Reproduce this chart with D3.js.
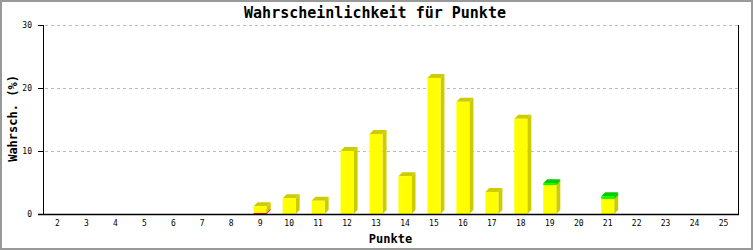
<!DOCTYPE html>
<html>
<head>
<meta charset="utf-8">
<script src="https://cdn.jsdelivr.net/npm/d3@7"></script>
<style>
  body { margin: 0; background: #fff; }
  text { font-family: "DejaVu Sans Mono", "Liberation Mono", monospace; }
</style>
</head>
<body>
<svg id="chart"></svg>
<script>
// Punkte (categories)
var punkte = ['2','3','4','5','6','7','8','9','10','11','12','13','14','15','16','17','18','19','20','21','22','23','24','25'];
// stacked segments, bottom to top
var rotWerte  = [0,0,0,0,0,0,0,0.15,0,0,0,0,0,0,0,0,0,0,0,0,0,0,0,0];
var gelbWerte = [0,0,0,0,0,0,0,1.1,2.5,2.1,10.0,12.7,6.0,21.6,17.8,3.5,15.1,4.6,0,2.4,0,0,0,0];
var gruenWerte= [0,0,0,0,0,0,0,0,0,0,0,0,0,0,0,0,0,0.3,0,0.4,0,0,0,0];
var yTicks = [0, 10, 20, 30];

var W = 753, H = 250;
var margin = { top: 25, right: 15, bottom: 36, left: 43 };
var width = W - margin.left - margin.right,
    height = H - margin.top - margin.bottom;

var svg = d3.select("#chart").attr("width", W).attr("height", H);

// outer frame
svg.append("rect")
    .attr("x", 1).attr("y", 1).attr("width", W - 2).attr("height", H - 2)
    .attr("fill", "#fff").attr("stroke", "#999").attr("stroke-width", 2);

var g = svg.append("g").attr("transform", `translate(${margin.left},${margin.top})`);

var x = d3.scaleBand().domain(punkte).range([0, width])
    .paddingInner(0.55).paddingOuter(0.275);
var y = d3.scaleLinear().domain([0, 30]).range([height, 0]);

// grid
g.selectAll(".grid").data(yTicks.filter(d => d > 0)).enter()
    .append("line")
    .attr("x1", 2).attr("x2", width)
    .attr("y1", d => y(d) + 0.5).attr("y2", d => y(d) + 0.5)
    .attr("stroke", "#bbb").attr("stroke-dasharray", "3,3");

// stacked 3d bars
var series = [
    { vals: rotWerte,   front: "#ff0000", dark: "#cc0000" },
    { vals: gelbWerte,  front: "#ffff00", dark: "#cccc00" },
    { vals: gruenWerte, front: "#00ff00", dark: "#00cc00" }
];
var depth = 4;
var bw = x.bandwidth();

punkte.forEach(function (p, i) {
    var base = 0;
    series.forEach(function (s) {
        var v = s.vals[i];
        if (v <= 0) return;
        var x0 = x(p), y0 = y(base), y1 = y(base + v);
        // side face
        g.append("path")
            .attr("d", `M${x0 + bw},${y0} L${x0 + bw + depth},${y0 - depth} L${x0 + bw + depth},${y1 - depth} L${x0 + bw},${y1} Z`)
            .attr("fill", s.dark);
        // top face
        g.append("path")
            .attr("d", `M${x0},${y1} L${x0 + depth},${y1 - depth} L${x0 + bw + depth},${y1 - depth} L${x0 + bw},${y1} Z`)
            .attr("fill", s.dark);
        // front
        g.append("rect")
            .attr("x", x0).attr("y", y1)
            .attr("width", bw).attr("height", y0 - y1)
            .attr("fill", s.front);
        base += v;
    });
});

// y axis
g.append("line").attr("x1", 0.5).attr("x2", 0.5).attr("y1", 0).attr("y2", height)
    .attr("stroke", "#000");
g.selectAll(".ytick").data(yTicks).enter().append("line")
    .attr("x1", -5).attr("x2", 0)
    .attr("y1", d => y(d) + 0.5).attr("y2", d => y(d) + 0.5)
    .attr("stroke", "#000");
g.selectAll(".ylab").data(yTicks).enter().append("text")
    .attr("x", -11).attr("y", d => y(d) + 3)
    .attr("text-anchor", "end").style("font-size", "8px")
    .text(d => d);

// right frame line
g.append("line").attr("x1", width + 0.5).attr("x2", width + 0.5).attr("y1", 0).attr("y2", height)
    .attr("stroke", "#000");

// x axis
g.append("line").attr("x1", -5).attr("x2", width + 1).attr("y1", height + 0.5).attr("y2", height + 0.5)
    .attr("stroke", "#000").attr("stroke-width", 1.5);
g.selectAll(".xlab").data(punkte).enter().append("text")
    .attr("x", d => x(d) + bw / 2).attr("y", height + 12)
    .attr("text-anchor", "middle").style("font-size", "8px")
    .text(d => d);

// titles
svg.append("text")
    .attr("x", 375).attr("y", 18)
    .attr("text-anchor", "middle")
    .style("font-size", "15px").style("font-weight", "bold")
    .text("Wahrscheinlichkeit für Punkte");

svg.append("text")
    .attr("x", margin.left + width / 2).attr("y", 243)
    .attr("text-anchor", "middle")
    .style("font-size", "12px").style("font-weight", "bold")
    .text("Punkte");

svg.append("text")
    .attr("transform", `translate(17,${margin.top + height / 2 - 1}) rotate(-90)`)
    .attr("text-anchor", "middle")
    .style("font-size", "12px").style("font-weight", "bold")
    .text("Wahrsch. (%)");
</script>
</body>
</html>
